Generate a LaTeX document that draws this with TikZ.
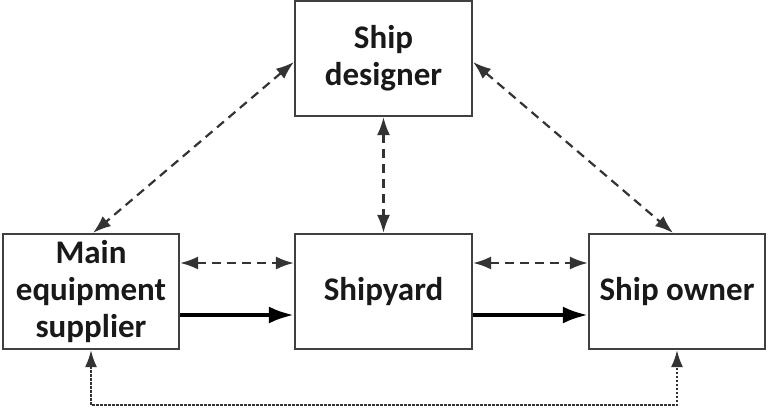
\documentclass[tikz,border=0pt]{standalone}
\usepackage{fontspec}
\setmainfont{Carlito}
\usetikzlibrary{arrows.meta,calc}
\begin{document}
\begin{tikzpicture}[x=1pt,y=-1pt,
  box/.style={draw=black!75,line width=2.2pt,rectangle,inner sep=0pt,align=center,
    font=\fontsize{33}{37}\selectfont\bfseries,text=black!90},
  dlink/.style={draw=black!80,line width=2.2pt,dash pattern=on 9pt off 6pt,{Latex[length=18pt,width=13pt]}-{Latex[length=18pt,width=13pt]}},
  slink/.style={draw=black,line width=4pt,-{Latex[length=25pt,width=17pt]}},
  tlink/.style={draw=black!80,line width=2pt,dash pattern=on 2.5pt off 1.5pt,{Latex[length=17pt,width=12pt]}-{Latex[length=17pt,width=12pt]}}]
\useasboundingbox (0,0) rectangle (768,408);
\node[box,minimum width=177pt,minimum height=115pt] (des) at (383.5,58.5) {Ship\\designer};
\node[box,minimum width=176pt,minimum height=115pt] (sup) at (91,291.5) {Main\\equipment\\supplier};
\node[box,minimum width=177pt,minimum height=115pt] (yard) at (383.5,291.5) {Shipyard};
\node[box,minimum width=176pt,minimum height=115pt] (own) at (677,291.5) {Ship owner};
\draw[dlink] ([yshift=-3.5pt]des.west) -- ([xshift=2pt]sup.north);
\draw[dlink] ([yshift=-3.5pt]des.east) -- ([xshift=-4pt]own.north);
\draw[dlink] (des.south) -- (yard.north);
\draw[dlink] ([yshift=28.5pt]sup.east) -- ([yshift=28.5pt]yard.west);
\draw[dlink] ([yshift=28.5pt]yard.east) -- ([yshift=28.5pt]own.west);
\draw[slink] ([yshift=-23.5pt]sup.east) -- ([yshift=-23.5pt]yard.west);
\draw[slink] ([yshift=-23.5pt]yard.east) -- ([yshift=-23.5pt]own.west);
\draw[tlink] (sup.south) -- ($(sup.south)+(0,55)$) -| (own.south);
\end{tikzpicture}
\end{document}
